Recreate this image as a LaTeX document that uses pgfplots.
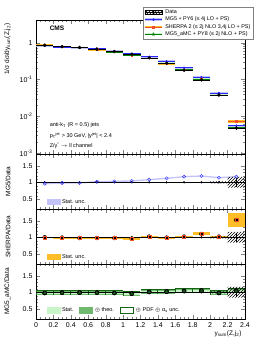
\documentclass[border=0pt]{standalone}
\usepackage{pgfplots}
\pgfplotsset{compat=1.18}
\usepackage{pgfplotstable}
\usetikzlibrary{patterns}
\usepackage{fontspec}
\setmainfont{Liberation Sans}
\newcommand\fs[1]{\fontsize{#1}{#1}\selectfont}
\definecolor{mgblue}{RGB}{40,40,255}
\definecolor{mgband}{RGB}{195,195,250}
\definecolor{shred}{RGB}{240,80,40}
\definecolor{shband}{RGB}{255,190,40}
\definecolor{amgreen}{RGB}{0,128,0}
\definecolor{amdark}{RGB}{20,100,20}
\definecolor{ammid}{RGB}{110,185,110}
\definecolor{amlight}{RGB}{200,245,200}

\pgfplotstableread{
x    d       de      mg      sh      am
0.1  0.87    0.004   0.835   0.87    0.844
0.3  0.79    0.004   0.774   0.782   0.774
0.5  0.75    0.004   0.735   0.735   0.735
0.7  0.68    0.004   0.694   0.666   0.666
0.9  0.58    0.003   0.597   0.568   0.563
1.1  0.49    0.003   0.510   0.470   0.470
1.3  0.39    0.002   0.421   0.398   0.386
1.5  0.28    0.002   0.314   0.277   0.283
1.7  0.18    0.001   0.211   0.184   0.185
1.9  0.098   0.001   0.117   0.108   0.101
2.1  0.038   0.001   0.0433  0.0388  0.0372
2.3  0.0048  0.0006  0.0056  0.0073  0.0049
}\maintab

\pgfplotstableread{
x    one  de     r1    r2    r2e    r3    r3o    r3m    r3s
0.1  1    0.01   0.96  1.00  0.02   0.98  0.075  0.062  0.015
0.3  1    0.01   0.98  0.99  0.02   0.99  0.075  0.062  0.015
0.5  1    0.01   0.98  0.98  0.02   0.99  0.075  0.062  0.015
0.7  1    0.01   1.02  0.98  0.02   0.99  0.075  0.062  0.015
0.9  1    0.01   1.03  0.98  0.02   0.98  0.075  0.062  0.015
1.1  1    0.01   1.04  0.96  0.025  0.96  0.075  0.062  0.015
1.3  1    0.01   1.08  1.02  0.02   1.01  0.075  0.062  0.015
1.5  1    0.01   1.12  0.99  0.02   1.02  0.075  0.062  0.015
1.7  1    0.01   1.17  1.02  0.025  1.04  0.075  0.062  0.015
1.9  1    0.015  1.19  1.10  0.045  1.05  0.075  0.062  0.015
2.1  1    0.03   1.14  1.02  0.03   0.98  0.075  0.062  0.015
2.3  1    0.13   1.17  1.52  0.21   1.04  0.075  0.062  0.015
}\ratiotab

\pgfplotsset{
  base/.style={scale only axis, width=209pt, xmin=0, xmax=2.4, anchor=south west,
    tick align=inside, axis line style={line width=0.5pt},
    major tick length=4pt, minor tick length=2pt,
    xtick={0,0.2,0.4,0.6,0.8,1,1.2,1.4,1.6,1.8,2,2.2,2.4}, minor x tick num=3,
    tick label style={font=\fs{7}}, /pgf/number format/assume math mode=true},
  ratio/.style={base, height=55pt, ymin=0.2, ymax=1.85, ytick={0.5,1,1.5}, minor y tick num=4,
    xticklabels={},
    ylabel style={at={(axis description cs:-0.105,0.5)}, anchor=south, font=\fs{6.5}},
    legend style={draw=none, fill=none, font=\fs{5.5}, anchor=west, inner sep=0pt,
      /tikz/every even column/.append style={column sep=4pt}},
    legend cell align=left},
  databar/.style={forget plot, only marks, mark=*, mark size=0.9pt, black,
    error bars/.cd, x dir=both, x fixed=0.1, y dir=both, y explicit, error mark=none,
    error bar style={line width=0.6pt, black}},
  box/.style 2 args={forget plot, only marks, mark=none,
    error bars/.cd, y dir=both, y explicit, error mark=none,
    error bar style={line width=#1, draw=#2, solid}},
  hatch/.style={forget plot, draw=none, pattern=north east lines, pattern color=black},
}

\begin{document}
\begin{tikzpicture}
\path[use as bounding box] (0,0) rectangle (266pt,344pt);

% ---------------- main panel ----------------
\begin{axis}[base, at={(36pt,190pt)}, height=134pt,
  ymode=log, ymin=9.4e-4, ymax=4.2,
  ytick={0.001,0.01,0.1,1},
  yticklabels={10\textsuperscript{-3},10\textsuperscript{-2},10\textsuperscript{-1},1},
  xticklabels={},
  ylabel={1/σ dσ/dy\textsubscript{sum}(Z,j\textsubscript{2})},
  ylabel style={at={(axis description cs:-0.105,1)}, anchor=south east, font=\fs{6.5}},
  legend style={at={(0.51,1.097)}, anchor=north west, draw=gray, fill=white,
    font=\fs{5.4}, inner sep=0.8pt, row sep=-2.2pt},
  legend cell align=left]

\addplot[forget plot, only marks, mark=square*, mark size=0.8pt, shred,
  error bars/.cd, x dir=both, x fixed=0.1, error mark=none,
  error bar style={line width=2.4pt, draw=shband}] table[x=x,y=sh]{\maintab};
\addplot[forget plot, only marks, mark=square*, mark size=0.8pt, shred,
  error bars/.cd, x dir=both, x fixed=0.1, error mark=none,
  error bar style={line width=0.6pt, draw=shred}] table[x=x,y=sh]{\maintab};
\addplot[forget plot, only marks, mark=triangle*, mark size=1pt, amgreen,
  error bars/.cd, x dir=both, x fixed=0.1, error mark=none,
  error bar style={line width=2pt, draw=amlight}] table[x=x,y=am]{\maintab};
\addplot[forget plot, only marks, mark=triangle*, mark size=1pt, amgreen,
  error bars/.cd, x dir=both, x fixed=0.1, error mark=none,
  error bar style={line width=0.6pt, draw=amgreen}] table[x=x,y=am]{\maintab};
\addplot[forget plot, only marks, mark=*, mark size=0.8pt, mgblue,
  error bars/.cd, x dir=both, x fixed=0.1, error mark=none,
  error bar style={line width=2pt, draw=mgband}] table[x=x,y=mg]{\maintab};
\addplot[forget plot, only marks, mark=*, mark size=0.8pt, mgblue,
  error bars/.cd, x dir=both, x fixed=0.1, error mark=none,
  error bar style={line width=0.6pt, draw=mgblue}] table[x=x,y=mg]{\maintab};
\addplot[forget plot, only marks, mark=*, mark size=1.5pt, black,
  error bars/.cd, x dir=both, x fixed=0.1, y dir=both, y explicit, error mark=none,
  error bar style={line width=0.7pt, black}] table[x=x,y=d,y error=de]{\maintab};

\addlegendimage{legend image code/.code={
  \fill[pattern=north east lines] (0pt,-2pt) rectangle (17pt,2pt);
  \draw[black, line width=0.6pt] (0pt,0pt)--(17pt,0pt);
  \draw[black, line width=0.6pt] (8.5pt,-2.5pt)--(8.5pt,2.5pt);
  \fill[black] (8.5pt,0pt) circle (1.3pt);}}
\addlegendentry{Data}
\addlegendimage{legend image code/.code={
  \draw[mgband, line width=2.6pt] (0pt,0pt)--(17pt,0pt);
  \draw[mgblue, line width=0.7pt] (0pt,0pt)--(17pt,0pt);
  \fill[mgblue] (8.5pt,0pt) circle (1.2pt);}}
\addlegendentry{MG5 + PY6 (≤ 4j LO + PS)}
\addlegendimage{legend image code/.code={
  \draw[shband, line width=2.8pt] (0pt,0pt)--(17pt,0pt);
  \draw[shred, line width=0.7pt] (0pt,0pt)--(17pt,0pt);
  \fill[shred] (7.5pt,-1pt) rectangle (9.5pt,1pt);}}
\addlegendentry{SHERPA 2 (≤ 2j NLO 3,4j LO + PS)}
\addlegendimage{legend image code/.code={
  \draw[amlight, line width=2.6pt] (0pt,0pt)--(17pt,0pt);
  \draw[amgreen, line width=0.7pt] (0pt,0pt)--(17pt,0pt);
  \fill[amgreen] (7.3pt,-1pt)--(9.7pt,-1pt)--(8.5pt,1.4pt)--cycle;}}
\addlegendentry{MG5\_aMC + PY8 (≤ 2j NLO + PS)}

\node[anchor=south west, font=\fs{7}, inner sep=0pt] at (rel axis cs:0,1.02) {19.6 fb\textsuperscript{-1} (8 TeV)};
\node[anchor=north west, font=\fs{6.5}\bfseries, inner sep=0pt] at (rel axis cs:0.065,0.96) {CMS};
\node[anchor=west, font=\fs{5.5}, inner sep=0pt] at (rel axis cs:0.065,0.215) {anti-k\textsubscript{T} (R = 0.5) jets};
\node[anchor=west, font=\fs{5.5}, inner sep=0pt] at (rel axis cs:0.065,0.135) {p\textsubscript{T}\textsuperscript{jet} > 30 GeV, |y\textsuperscript{jet}| < 2.4};
\node[anchor=west, font=\fs{5.5}, inner sep=0pt] at (rel axis cs:0.065,0.06) {Z/γ\textsuperscript{*} $\rightarrow$ ll channel};
\end{axis}

% ---------------- MG5 / Data ----------------
\begin{axis}[ratio, at={(36pt,135pt)}, ylabel={MG5/Data},
  legend style={at={(0.05,0.13)}}]
\addplot[forget plot, fill=mgband, draw=none] coordinates {
  (0.1,0.98) (0.3,1.00) (0.5,1.00) (0.7,1.04) (0.9,1.05) (1.1,1.06) (1.3,1.10) (1.5,1.14)
  (1.7,1.19) (1.9,1.21) (2.1,1.16) (2.3,1.19)
  (2.3,1.15) (2.1,1.12) (1.9,1.17) (1.7,1.15) (1.5,1.10) (1.3,1.06) (1.1,1.02) (0.9,1.01)
  (0.7,1.00) (0.5,0.96) (0.3,0.96) (0.1,0.94)} -- cycle;
\addplot[hatch] coordinates {(2.0,0.97) (2.2,0.97) (2.2,0.84) (2.4,0.84) (2.4,1.16) (2.2,1.16) (2.2,1.03) (2.0,1.03)} -- cycle;
\addplot[databar] table[x=x,y=one,y error=de]{\ratiotab};
\addplot[forget plot, only marks, mark=o, mark size=1.6pt, mgblue, thin] table[x=x,y=r1]{\ratiotab};
\addlegendimage{legend image code/.code={\fill[mgband] (0pt,-2.8pt) rectangle (13pt,2.8pt);}}
\addlegendentry{Stat. unc.}
\end{axis}

% ---------------- SHERPA / Data ----------------
\begin{axis}[ratio, at={(36pt,80pt)}, ylabel={SHERPA/Data},
  legend style={at={(0.05,0.13)}}]
\addplot[box={17.4pt}{shband}] table[x=x,y=r2,y error=r2e]{\ratiotab};
\addplot[hatch] coordinates {(2.0,0.97) (2.2,0.97) (2.2,0.84) (2.4,0.84) (2.4,1.16) (2.2,1.16) (2.2,1.03) (2.0,1.03)} -- cycle;
\addplot[databar] table[x=x,y=one,y error=de]{\ratiotab};
\addplot[forget plot, only marks, mark=square, mark size=1.5pt, shred, thin] table[x=x,y=r2]{\ratiotab};
\addlegendimage{legend image code/.code={\fill[shband] (0pt,-2.8pt) rectangle (13pt,2.8pt);}}
\addlegendentry{Stat. unc.}
\end{axis}

% ---------------- MG5_aMC / Data ----------------
\begin{axis}[ratio, at={(36pt,25pt)}, ylabel={MG5\_aMC/Data},
  xticklabels={0,0.2,0.4,0.6,0.8,1,1.2,1.4,1.6,1.8,2,2.2,2.4},
  xlabel={y\textsubscript{sum}(Z,j\textsubscript{2})},
  xlabel style={at={(axis description cs:1,0)}, anchor=north east, yshift=-8pt, font=\fs{6.5}},
  legend style={at={(0.05,0.16)}}, legend columns=3]
\addplot[box={17.4pt}{amdark}] table[x=x,y=r3,y error=r3o]{\ratiotab};
\addplot[box={16.4pt}{ammid}] table[x=x,y=r3,y error=r3m]{\ratiotab};
\addplot[box={16.4pt}{amlight}] table[x=x,y=r3,y error=r3s]{\ratiotab};
\addplot[hatch] coordinates {(2.0,0.97) (2.2,0.97) (2.2,0.84) (2.4,0.84) (2.4,1.16) (2.2,1.16) (2.2,1.03) (2.0,1.03)} -- cycle;
\addplot[databar] table[x=x,y=one,y error=de]{\ratiotab};
\addplot[forget plot, only marks, mark=triangle*, mark size=1.3pt, amdark] table[x=x,y=r3]{\ratiotab};
\addlegendimage{legend image code/.code={\fill[amlight] (0pt,-2.8pt) rectangle (13pt,2.8pt);}}
\addlegendentry{Stat.}
\addlegendimage{legend image code/.code={\fill[ammid] (0pt,-2.8pt) rectangle (13pt,2.8pt);}}
\addlegendentry{$\oplus$ theo.}
\addlegendimage{legend image code/.code={\draw[amdark, line width=0.8pt] (0pt,-2.8pt) rectangle (13pt,2.8pt);}}
\addlegendentry{$\oplus$ PDF $\oplus$ α\textsubscript{s} unc.}
\end{axis}
\end{tikzpicture}
\end{document}
